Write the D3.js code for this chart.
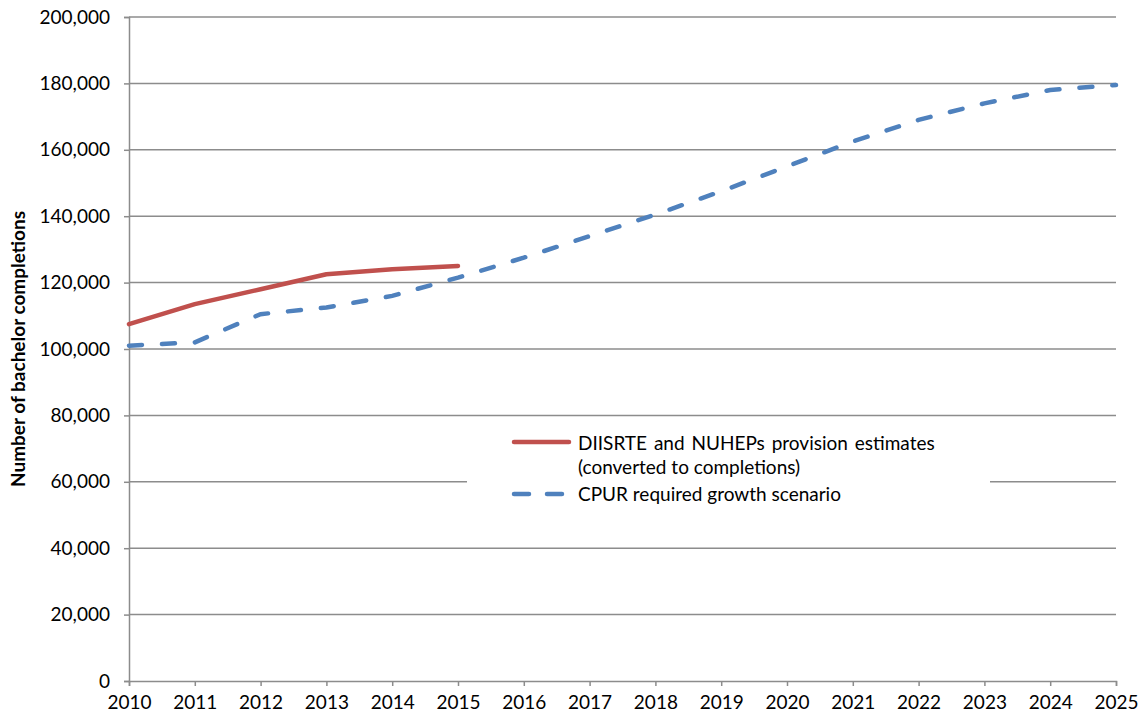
<!DOCTYPE html>
<html>
<head>
<meta charset="utf-8">
<script src="https://cdn.jsdelivr.net/npm/d3@7"></script>
<style>
  body { margin: 0; background: #fff; }
  text { font-family: Lato, "Open Sans", sans-serif; fill: #000; }
</style>
</head>
<body>
<svg id="chart" width="1141" height="721"></svg>
<script>
const years = [2010, 2011, 2012, 2013, 2014, 2015, 2016, 2017, 2018, 2019, 2020, 2021, 2022, 2023, 2024, 2025];
const provisionYears = [2010, 2011, 2012, 2013, 2014, 2015];
const provisionValues = [107500, 113500, 118000, 122500, 124000, 125000];
const cpurValues = [101000, 102000, 110500, 112500, 116000, 121500, 127500, 134000, 140500, 147500, 155000, 162500, 169000, 174000, 178000, 179500];
const yTicks = [0, 20000, 40000, 60000, 80000, 100000, 120000, 140000, 160000, 180000, 200000];
const legendLabels = [["DIISRTE and NUHEPs provision estimates", "(converted to completions)"], ["CPUR required growth scenario"]];

const margin = { left: 129, right: 1116, top: 17, bottom: 681 };
const svg = d3.select("#chart");

const x = d3.scaleLinear().domain([2010, 2025]).range([margin.left, margin.right]);
const y = d3.scaleLinear().domain([0, 200000]).range([margin.bottom, margin.top]);
const fmt = d3.format(",");

// gridlines
svg.append("g")
  .selectAll("line")
  .data(yTicks.filter((d) => d > 0))
  .enter()
  .append("line")
  .attr("x1", margin.left)
  .attr("x2", margin.right)
  .attr("y1", (d) => y(d))
  .attr("y2", (d) => y(d))
  .attr("stroke", "#8c8c8c")
  .attr("stroke-width", 1.5);

// y axis
const yAxis = svg.append("g")
  .attr("transform", `translate(${margin.left},0)`)
  .call(d3.axisLeft(y).tickValues(yTicks).tickFormat(fmt).tickSize(5).tickPadding(14));
yAxis.select(".domain").attr("stroke", "#8c8c8c").attr("stroke-width", 1.5);
yAxis.selectAll(".tick line").attr("stroke", "#8c8c8c").attr("stroke-width", 1.5);
yAxis.selectAll(".tick text").style("font-size", "19px").attr("fill", "#000");

// x axis
const xAxis = svg.append("g")
  .attr("transform", `translate(0,${margin.bottom})`)
  .call(d3.axisBottom(x).tickValues(years).tickFormat(d3.format("d")).tickSize(5).tickPadding(10));
xAxis.select(".domain").attr("stroke", "#8c8c8c").attr("stroke-width", 1.5);
xAxis.selectAll(".tick line").attr("stroke", "#8c8c8c").attr("stroke-width", 1.5);
xAxis.selectAll(".tick text").style("font-size", "19px").attr("fill", "#000");

// y axis title
svg.append("text")
  .attr("transform", `translate(25,${(margin.top + margin.bottom) / 2}) rotate(-90)`)
  .attr("text-anchor", "middle")
  .style("font-size", "19px")
  .style("font-weight", "bold")
  .text("Number of bachelor completions");

const line = d3.line().x((d) => x(d[0])).y((d) => y(d[1]));

svg.append("path")
  .datum(years.map((yr, i) => [yr, cpurValues[i]]))
  .attr("d", line)
  .attr("fill", "none")
  .attr("stroke", "#4F81BD")
  .attr("stroke-width", 4.5)
  .attr("stroke-linecap", "round")
  .attr("stroke-dasharray", "13,20");

svg.append("path")
  .datum(provisionYears.map((yr, i) => [yr, provisionValues[i]]))
  .attr("d", line)
  .attr("fill", "none")
  .attr("stroke", "#C0504D")
  .attr("stroke-width", 4.5)
  .attr("stroke-linecap", "round")
  .attr("stroke-linejoin", "round");

// legend
const legend = svg.append("g");
legend.append("rect")
  .attr("x", 467).attr("y", 420).attr("width", 523).attr("height", 95)
  .attr("fill", "#fff");

legend.append("line")
  .attr("x1", 514).attr("x2", 569).attr("y1", 442).attr("y2", 442)
  .attr("stroke", "#C0504D").attr("stroke-width", 4.5).attr("stroke-linecap", "round");
legend.append("line")
  .attr("x1", 514).attr("x2", 569).attr("y1", 494).attr("y2", 494)
  .attr("stroke", "#4F81BD").attr("stroke-width", 4.5).attr("stroke-linecap", "round")
  .attr("stroke-dasharray", "15,18");

const legendText = legend.append("g").style("font-size", "19px");
legendText.append("text").attr("x", 578).attr("y", 450).style("word-spacing", "2px").text(legendLabels[0][0]);
legendText.append("text").attr("x", 578).attr("y", 474).text(legendLabels[0][1]);
legendText.append("text").attr("x", 578).attr("y", 501).text(legendLabels[1][0]);
</script>
</body>
</html>
